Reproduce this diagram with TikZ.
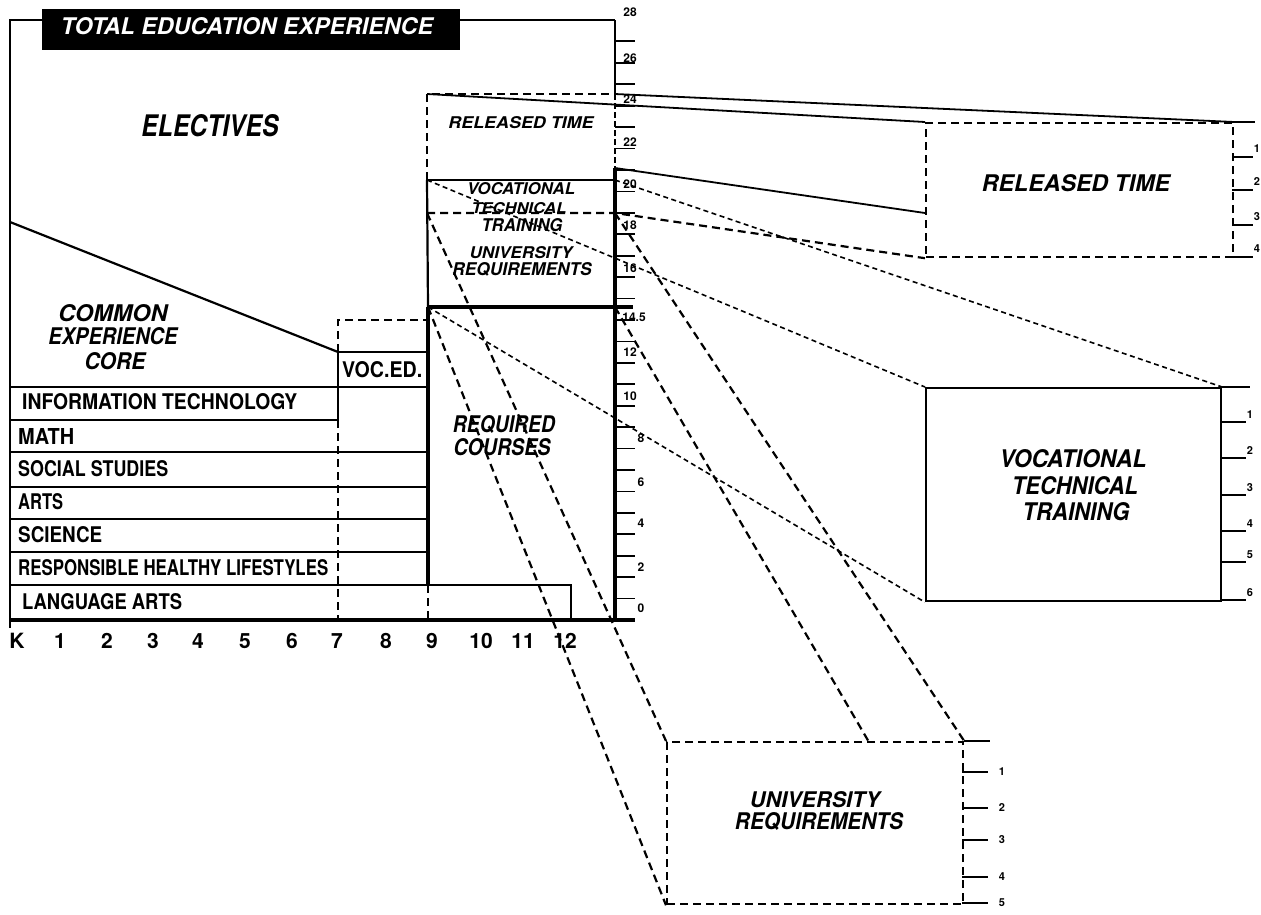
\documentclass[tikz,border=0pt]{standalone}
\usepackage{fontspec}
\setmainfont{TeX Gyre Heros}
\usepackage{graphicx}
\usetikzlibrary{calc}
\newcommand{\fitt}[3]{\resizebox{#1pt}{#2pt}{#3}}
\begin{document}
\begin{tikzpicture}[x=1pt,y=-1pt,
  ln/.style={line width=2.2pt},
  thn/.style={line width=1.8pt},
  thk/.style={line width=3.2pt},
  dsh/.style={line width=2.2pt, dash pattern=on 8pt off 5pt},
  tdsh/.style={line width=1.6pt, dash pattern=on 5pt off 3.5pt},
  lbl/.style={inner sep=0pt, font=\bfseries},
  ilbl/.style={inner sep=0pt, font=\bfseries\itshape},
  num/.style={inner sep=0pt, font=\bfseries\fontsize{12}{12}\selectfont},
  rnum/.style={inner sep=0pt, font=\bfseries\fontsize{11}{11}\selectfont},
  grade/.style={inner sep=0pt, font=\bfseries\fontsize{21}{21}\selectfont},
  rbox/.style={inner sep=0pt, anchor=north west},
]
\useasboundingbox (0,0) rectangle (1261,914);

% ---------- key coordinates of the middle column
\coordinate (m24L) at (427,94);
\coordinate (m24R) at (615,94);
\coordinate (m20L) at (427,180);
\coordinate (m20R) at (615,180);
\coordinate (m18L) at (427,213);
\coordinate (m18R) at (615,213);
\coordinate (m14L) at (428,307);
\coordinate (m14R) at (615,307);
\coordinate (a168) at (615,168);
\coordinate (rtm) at (925,213);

% ---------- right boxes
\node[rbox, draw, dsh, minimum width=307pt, minimum height=134pt] (rt) at (925,122) {};
\node[rbox, draw, ln, minimum width=295pt, minimum height=213pt] (vt) at (925,387) {};
\node[rbox, draw, dsh, minimum width=296pt, minimum height=162pt] (ut) at (666,741) {};

% ---------- frame and title
\draw[ln] (10,620) -- (10,20) -- (615,20);
\node[rbox, fill=black, minimum width=418pt, minimum height=41pt] (titlebox) at (42,9) {};
\node[ilbl, text=white] (title) at (247,26.5) {\fitt{372}{17}{TOTAL EDUCATION EXPERIENCE}};

% ---------- left rows
\draw[ln] (10,387) -- (428,387);
\draw[ln] (10,420) -- (338,420);
\foreach \yy in {452,487,519,552} \draw[ln] (10,\yy) -- (428,\yy);
\draw[ln] (10,585) -- (571,585) -- (571,620);
\draw[ln] (10,222) -- (338,352);
\draw[ln] (338,352) -- (428,352);
\draw[ln] (338,352) -- (338,420);
\draw[dsh] (338,352) -- (338,320) -- (428,320);
\draw[dsh] (338,420) -- (338,620);

% ---------- middle column
\draw[dsh] (m20L) -- (m24L) -- (m24R);
\draw[ln] (m20L) -- (m14L);
\draw[thk] (m14L) -- (428,585);
\draw[dsh] (428,585) -- (428,620);
\draw[ln] (m20L) -- (m20R);
\draw[dsh] (m18L) -- (m18R) -- (rt.south west);
\draw[thk] (m14L) -- (633,307);

% ---------- main axis
\draw[ln] (615,20) -- (m24R);
\draw[thn, dash pattern=on 6pt off 3pt] (m24R) -- (a168);
\draw[thk] (a168) -- (615,620);
\draw[thk] (10,620) -- (635,620);
\draw[ln] (10,620) -- (10,628);
\foreach \v in {1,...,27} \draw[thn] (615,{620-21.43*\v}) -- (635,{620-21.43*\v});
\foreach \t/\xx/\yy [count=\i] in {0/641/608, 2/641/567, 4/641/523, 6/641/482, 8/641/438, 10/630/396, 12/630/352, 14.5/634/317, 16/630/268, 18/630/225, 20/630/184, 22/630/142, 24/630/99, 26/630/58, 28/630/12}
  \node[num] (ax\i) at (\xx,\yy) {\t};

% ---------- grade labels
\foreach \t/\xx [count=\i] in {K/17, 1/60, 2/107, 3/153, 4/198, 5/245, 6/292, 7/337, 8/386, 9/432, 10/481, 11/523, 12/565}
  \node[grade] (gr\i) at (\xx,641) {\t};

% ---------- projection lines
\draw[thn] (m24R) -- (rt.north east);
\draw[thn] (m24L) -- (rt.north west);
\draw[thn] (a168) -- (rtm);
\draw[tdsh] (m20L) -- (vt.north west);
\draw[tdsh] (m20R) -- (vt.north east);
\draw[tdsh] (m14L) -- (vt.south west);
\draw[dsh] (m18L) -- (ut.north west);
\draw[dsh] (m14L) -- (ut.south west);
\draw[dsh] (m14R) -- ($(m14R)!0.728!(ut.south east)$);
\draw[dsh] (m18R) -- (ut.north east);

% ---------- right box ticks
\draw[ln] (rt.north east) -- ++(21,0);
\foreach \yy/\t [count=\i] in {157/1, 190/2, 225/3, 257/4} {
  \draw[ln] (1232,\yy) -- (1253,\yy);
  \node[rnum] (rtn\i) at (1257,\yy-8) {\t};
}
\draw[ln] (vt.north east) -- ++(28,0);
\foreach \yy/\t [count=\i] in {422/1, 458/2, 495/3, 531/4, 562/5, 600/6} {
  \draw[ln] (1220,\yy) -- (1246,\yy);
  \node[rnum] (vtn\i) at (1250,\yy-7) {\t};
}
\draw[ln] (ut.north east) -- ++(26,0);
\foreach \yy/\t [count=\i] in {772/1, 808/2, 840/3, 877/4, 903/5} {
  \draw[ln] (962,\yy) -- (988,\yy);
  \node[rnum] (utn\i) at (1002,\yy) {\t};
}

% ---------- labels
\node[ilbl] (elec) at (210,126) {\fitt{137}{22}{ELECTIVES}};
\node[ilbl] (cec1) at (113,313.5) {\fitt{109}{17}{COMMON}};
\node[ilbl] (cec2) at (113,336.5) {\fitt{129}{17}{EXPERIENCE}};
\node[ilbl] (cec3) at (115,361.5) {\fitt{61}{17}{CORE}};
\node[lbl, anchor=west] (it) at (22,402) {\fitt{275}{16}{INFORMATION TECHNOLOGY}};
\node[lbl, anchor=west] (math) at (18,436) {\fitt{56}{16}{MATH}};
\node[lbl, anchor=west] (soc) at (18,469) {\fitt{150}{16}{SOCIAL STUDIES}};
\node[lbl, anchor=west] (arts) at (18,502) {\fitt{45}{16}{ARTS}};
\node[lbl, anchor=west] (sci) at (18,535) {\fitt{84}{16}{SCIENCE}};
\node[lbl, anchor=west] (rhl) at (18,568) {\fitt{310}{16}{RESPONSIBLE HEALTHY LIFESTYLES}};
\node[lbl, anchor=west] (lang) at (22,602) {\fitt{160}{16}{LANGUAGE ARTS}};
\node[lbl, anchor=west] (voced) at (342,370) {\fitt{80}{16}{VOC.ED.}};
\node[ilbl] (req1) at (504,424) {\fitt{102}{17}{REQUIRED}};
\node[ilbl] (req2) at (502,447) {\fitt{97}{17}{COURSES}};
\node[ilbl] (mrt) at (521,123) {\fitt{145}{12}{RELEASED TIME}};
\node[ilbl] (mv1) at (521,189) {\fitt{108}{12}{VOCATIONAL}};
\node[ilbl] (mv2) at (519,208) {\fitt{95}{11}{TECHNICAL}};
\node[ilbl] (mv3) at (522,225) {\fitt{81}{13}{TRAINING}};
\node[ilbl] (mu1) at (521,253) {\fitt{103}{12}{UNIVERSITY}};
\node[ilbl] (mu2) at (522,269) {\fitt{139}{13}{REQUIREMENTS}};
\node[ilbl] (rtT) at (1076,183) {\fitt{188}{17}{RELEASED TIME}};
\node[ilbl] (vt1) at (1073,459) {\fitt{147}{18}{VOCATIONAL}};
\node[ilbl] (vt2) at (1075,486) {\fitt{126}{18}{TECHNICAL}};
\node[ilbl] (vt3) at (1076,512) {\fitt{107}{18}{TRAINING}};
\node[ilbl] (ut1) at (815,800) {\fitt{130}{16}{UNIVERSITY}};
\node[ilbl] (ut2) at (819,821) {\fitt{168}{17}{REQUIREMENTS}};
\end{tikzpicture}
\end{document}
